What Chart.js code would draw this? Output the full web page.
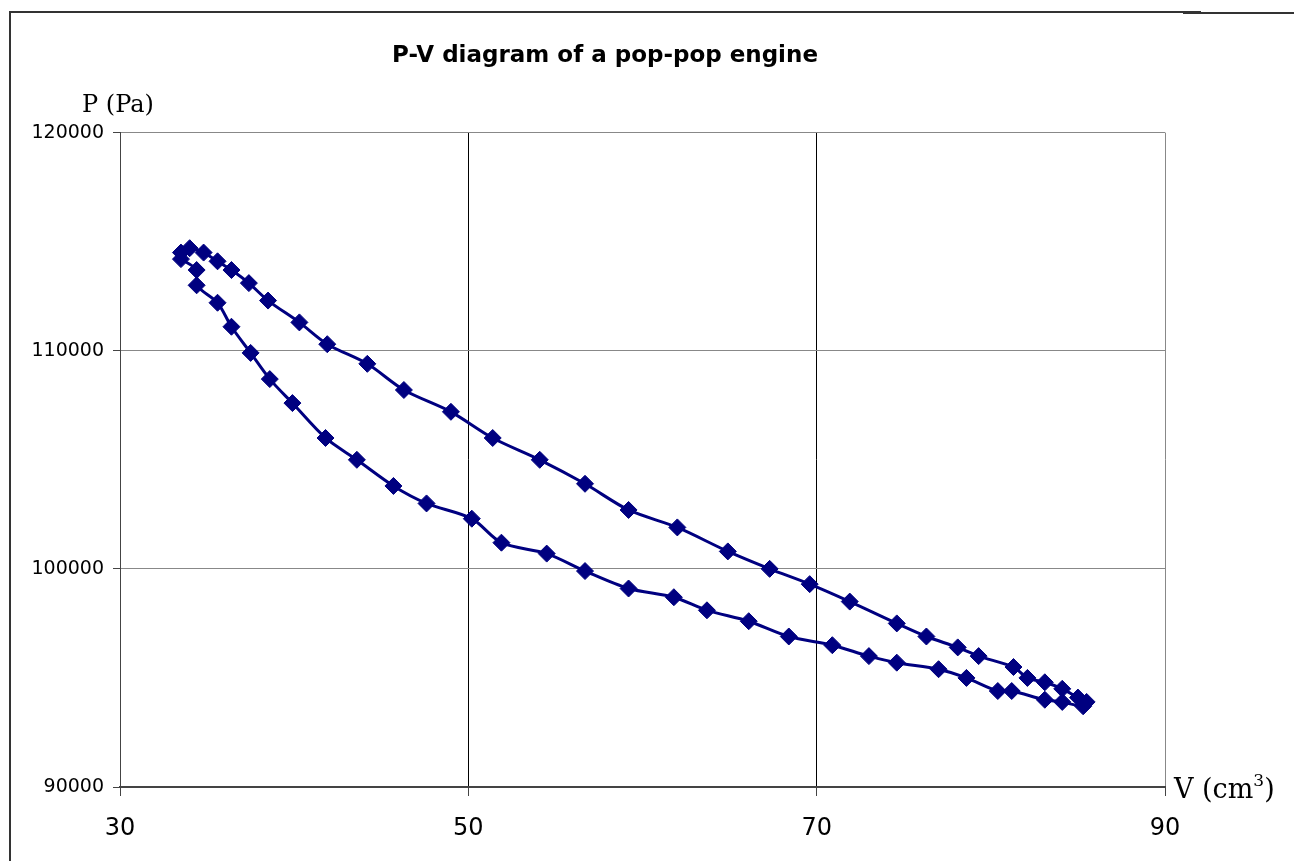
<!DOCTYPE html>
<html>
<head>
<meta charset="utf-8">
<title>P-V diagram of a pop-pop engine</title>
<script src="https://cdn.jsdelivr.net/npm/chart.js@4.4.1/dist/chart.umd.min.js"></script>
<style>
  html, body { margin: 0; padding: 0; background: #fff; }
  #wrap { position: relative; width: 1294px; height: 861px; overflow: hidden; background: #fff; }
  #wrap canvas { position: absolute; left: 0; top: 0; }
  .frame { position: absolute; background: #333; }
</style>
</head>
<body>
<div id="wrap">
  <canvas id="pv" width="1294" height="861"></canvas>
  <div class="frame" style="left:9px; top:11px; width:1192px; height:2px;"></div>
  <div class="frame" style="left:1183px; top:12px; width:111px; height:2px;"></div>
  <div class="frame" style="left:9px; top:11px; width:2px; height:850px;"></div>
</div>
<script>
// volume (cm3) and pressure (Pa), upper branch read left to right
const vUpper = [33.5, 34.0, 34.8, 35.6, 36.4, 37.4, 38.5, 40.3, 41.9, 44.2, 46.3, 49.0, 51.4, 54.1, 56.7, 59.2,
  62.0, 64.9, 67.3, 69.6, 71.9, 74.6, 76.3, 78.1, 79.3, 81.3, 82.1, 83.1, 84.1, 85.0, 85.5];
const pUpper = [114500, 114700, 114500, 114100, 113700, 113100, 112300, 111300, 110300, 109400, 108200, 107200,
  106000, 105000, 103900, 102700, 101900, 100800, 100000, 99300, 98500, 97500, 96900, 96400, 96000, 95500,
  95000, 94800, 94500, 94100, 93900];
// lower branch, also left to right
const vLower = [33.5, 34.4, 34.4, 35.6, 36.4, 37.5, 38.6, 39.9, 41.8, 43.6, 45.7, 47.6, 50.2, 51.9, 54.5, 56.7,
  59.2, 61.8, 63.7, 66.1, 68.4, 70.9, 73.0, 74.6, 77.0, 78.6, 80.4, 81.2, 83.1, 84.1, 85.3];
const pLower = [114200, 113700, 113000, 112200, 111100, 109900, 108700, 107600, 106000, 105000, 103800, 103000,
  102300, 101200, 100700, 99900, 99100, 98700, 98100, 97600, 96900, 96500, 96000, 95700, 95400, 95000,
  94400, 94400, 94000, 93900, 93700];

const xTicks = [30, 50, 70, 90];
const yTicks = [90000, 100000, 110000, 120000];
const chartTitle = 'P-V diagram of a pop-pop engine';
const yTitle = 'P (Pa)';

// one closed loop: along the upper branch, back along the lower one
const loop = vUpper.map((v, i) => ({ x: v, y: pUpper[i] }))
  .concat(vLower.map((v, i) => ({ x: v, y: pLower[i] })).reverse());

// Excel-style axis titles: P at top left, V (cm3) at the right end of the x axis
const axisTitles = {
  id: 'axisTitles',
  afterDraw(chart) {
    const { ctx, chartArea } = chart;
    ctx.save();
    ctx.fillStyle = '#000';
    ctx.textAlign = 'left';
    ctx.textBaseline = 'alphabetic';
    ctx.font = '24px "DejaVu Serif"';
    ctx.fillText(yTitle, 82, 112);

    let x = chartArea.right + 9;
    const base = chartArea.bottom + 11;
    ctx.font = '27px "DejaVu Serif"';
    ctx.fillText('V (cm', x, base);
    x += ctx.measureText('V (cm').width;
    ctx.font = '17px "DejaVu Serif"';
    ctx.fillText('3', x, base - 12);
    x += ctx.measureText('3').width;
    ctx.font = '27px "DejaVu Serif"';
    ctx.fillText(')', x, base);
    ctx.restore();
  }
};

new Chart(document.getElementById('pv'), {
  type: 'scatter',
  data: {
    datasets: [{
      label: 'P-V',
      data: loop,
      showLine: true,
      borderColor: '#000080',
      borderWidth: 3,
      tension: 0.3,
      pointStyle: 'rectRot',
      pointRadius: 8.5,
      pointBackgroundColor: '#000080',
      pointBorderColor: '#000080',
      pointBorderWidth: 1
    }]
  },
  options: {
    responsive: false,
    animation: false,
    layout: { padding: { left: 0, right: 84, top: 0, bottom: 0 } },
    plugins: {
      legend: { display: false },
      tooltip: { enabled: false },
      title: {
        display: true,
        text: chartTitle,
        color: '#000',
        font: { family: 'DejaVu Sans', size: 23, weight: 'bold' },
        padding: { top: 42, bottom: 63 }
      }
    },
    scales: {
      x: {
        type: 'linear',
        min: 30,
        max: 90,
        afterBuildTicks: (scale) => { scale.ticks = xTicks.map(v => ({ value: v })); },
        afterFit: (scale) => { scale.height = 74; },
        ticks: {
          color: '#000',
          padding: 18,
          maxRotation: 0,
          font: { family: 'DejaVu Sans', size: 24 }
        },
        grid: {
          color: (c) => (c.tick && c.tick.value === 90 ? '#888' : '#000'),
          tickColor: '#444',
          lineWidth: 1,
          tickLength: 9
        },
        border: { color: '#444', width: 2 }
      },
      y: {
        type: 'linear',
        min: 90000,
        max: 120000,
        afterBuildTicks: (scale) => { scale.ticks = yTicks.map(v => ({ value: v })); },
        afterFit: (scale) => { scale.width = 120; },
        ticks: {
          color: '#000',
          padding: 9,
          callback: (v) => String(v),
          font: { family: 'DejaVu Sans', size: 19 }
        },
        grid: {
          color: '#888',
          tickColor: '#444',
          lineWidth: 1,
          tickLength: 7
        },
        border: { color: '#444', width: 1 }
      },
      // empty right-hand axis: only reserves room for the V (cm3) label
      yRoom: {
        type: 'linear',
        position: 'right',
        min: 90000,
        max: 120000,
        afterFit: (scale) => { scale.width = 45; },
        ticks: { display: false },
        grid: { display: false, drawTicks: false },
        border: { display: false }
      }
    }
  },
  plugins: [axisTitles]
});
</script>
</body>
</html>
